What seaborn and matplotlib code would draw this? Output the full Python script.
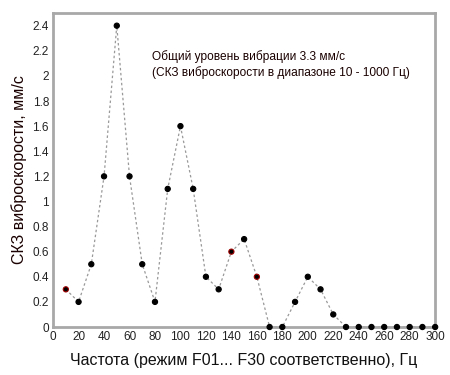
import numpy as np
import pandas as pd
import matplotlib
matplotlib.use("Agg")
import matplotlib.pyplot as plt
import seaborn as sns
from matplotlib.ticker import MultipleLocator

freq = [10, 20, 30, 40, 50, 60, 70, 80, 90, 100,
        110, 120, 130, 140, 150, 160, 170, 180, 190, 200,
        210, 220, 230, 240, 250, 260, 270, 280, 290, 300]
rms = [0.3, 0.2, 0.5, 1.2, 2.4, 1.2, 0.5, 0.2, 1.1, 1.6,
       1.1, 0.4, 0.3, 0.6, 0.7, 0.4, 0.0, 0.0, 0.2, 0.4,
       0.3, 0.1, 0.0, 0.0, 0.0, 0.0, 0.0, 0.0, 0.0, 0.0]
red_pts = [10, 140, 160]
ytick_labels = ["0", "0.2", "0.4", "0.6", "0.8", "1", "1.2", "1.4",
                "1.6", "1.8", "2", "2.2", "2.4"]

df = pd.DataFrame({"f": freq, "v": rms})

sns.set_style("white")
plt.rcParams['font.family'] = ['Liberation Sans', 'DejaVu Sans']

fig = plt.figure(figsize=(4.5, 3.75), dpi=100)
ax = fig.add_axes([0.118, 0.128, 0.849, 0.837])

sns.lineplot(data=df, x="f", y="v", ax=ax, color="#999999", lw=0.9,
             linestyle=(0, (2, 2)))
edges = ["#a00000" if f in red_pts else "black" for f in freq]
ax.scatter(df["f"], df["v"], s=14, c="black", edgecolors=edges,
           linewidths=0.8, zorder=3, clip_on=False)

ax.set_xlim(0, 300)
ax.set_ylim(0, 2.5)
ax.xaxis.set_major_locator(MultipleLocator(20))
ax.xaxis.set_minor_locator(MultipleLocator(10))
ax.yaxis.set_minor_locator(MultipleLocator(0.1))
ax.set_yticks(np.arange(0, 2.41, 0.2))
ax.set_yticklabels(ytick_labels)

ax.tick_params(which="both", direction="in", color="#a0a0a0",
               labelsize=8.5, labelcolor="#222222", pad=3)
ax.tick_params(which="major", length=4, width=1)
ax.tick_params(which="minor", length=2, width=1)
for s in ax.spines.values():
    s.set_color("#a8a8a8")
    s.set_linewidth(2)

ax.set_xlabel("Частота (режим F01... F30 соответственно), Гц",
              fontsize=11.5, color="#111111", labelpad=7)
ax.set_ylabel("СКЗ виброскорости, мм/с", fontsize=11.5,
              color="#1a0000", labelpad=4)

ax.text(78, 2.09, "Общий уровень вибрации 3.3 мм/с\n"
        "(СКЗ виброскорости в диапазоне 10 - 1000 Гц)",
        fontsize=8.6, color="#1a0000", va="center", ha="left",
        linespacing=1.25)

fig.savefig("out.png", dpi=100)
